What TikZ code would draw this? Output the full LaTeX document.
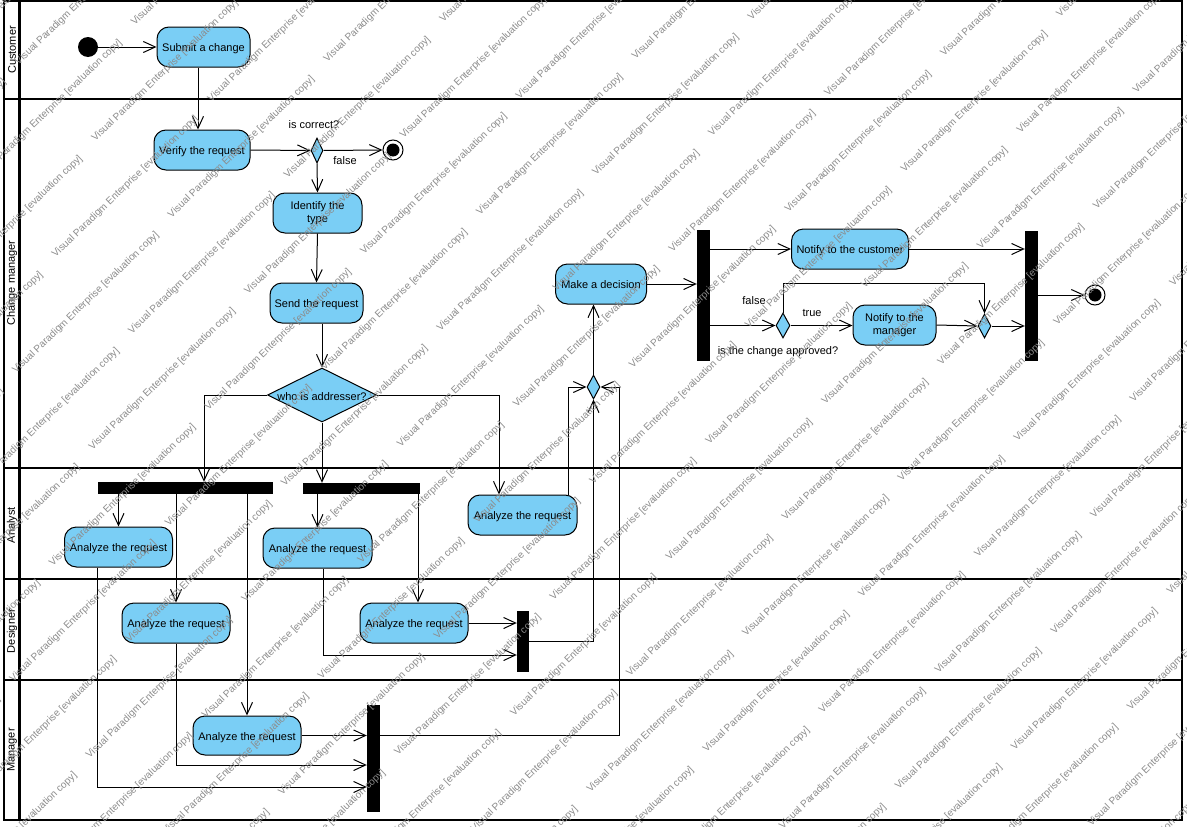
\documentclass[tikz,border=0pt]{standalone}
\usepackage{fontspec}
\setmainfont{Liberation Sans}
\usetikzlibrary{arrows.meta,shapes.geometric,calc}
\definecolor{actfill}{RGB}{122,206,245}
\definecolor{wmgray}{RGB}{140,140,140}
\begin{document}
\begin{tikzpicture}[x=1pt,y=-1pt,
  font=\fontsize{11}{13}\selectfont,
  action/.style={draw, line width=1pt, fill=actfill, rounded corners=12pt,
    inner sep=1pt, align=center},
  oneline/.style={action, text height=10pt, text depth=0.5pt},
  bar/.style={fill=black, inner sep=0pt},
  choice/.style={diamond, draw, line width=1pt, fill=actfill, inner sep=0pt,
    minimum width=13pt, minimum height=25pt},
  startnode/.style={circle, fill=black, inner sep=0pt, minimum size=20pt},
  endnode/.style={circle, draw, line width=1pt, fill=white, inner sep=0pt,
    minimum size=20pt,
    path picture={\fill[black] (path picture bounding box.center) circle (6.5pt);}},
  flow/.style={draw, line width=1pt,
    -{Straight Barb[length=12pt,width=11pt,line width=1pt]}},
  lane/.style={line width=2.5pt},
  wm/.style={font=\fontsize{10}{12}\selectfont, text=wmgray, rotate=44,
    anchor=west, inner sep=0pt}
]
\useasboundingbox (0,0) rectangle (1187,827);
\fill[white] (0,0) rectangle (1187,827);

% swimlane frame
\draw[line width=2pt] (4,1) rectangle (1182,820);
\draw[line width=3pt] (19,1) -- (19,820);
\foreach \y in {99,468,579,680} \draw[lane] (4,\y) -- (1182,\y);

% lane titles
\node[rotate=90] (lcust) at (12,50) {Customer};
\node[rotate=90] (lchg) at (12,283) {Change manager};
\node[rotate=90] (lana) at (12,525) {Analyst};
\node[rotate=90] (ldes) at (12,631) {Designer};
\node[rotate=90] (lman) at (12,750) {Manager};

% Customer
\node[startnode] (init) at (88,47) {};
\node[oneline, minimum width=93pt, minimum height=40pt] (submit) at (203.5,47) {Submit a change};

% Change manager
\node[oneline, minimum width=96pt, minimum height=40pt] (verify) at (202,150) {Verify the request};
\node[choice, minimum width=12pt] (dec1) at (317,150.5) {};
\node[endnode] (fin1) at (393,150) {};
\node (lblcorrect) at (314,125) {is correct?};
\node (lblfalse1) at (345,161) {false};
\node[action, minimum width=89pt, minimum height=40pt] (identify) at (317.5,213) {Identify the\\type};
\node[oneline, minimum width=93pt, minimum height=40pt] (send) at (316.5,303) {Send the request};
\node[diamond, draw, line width=1pt, fill=actfill, inner sep=0pt,
  minimum width=109pt, minimum height=54pt] (who) at (322,395) {};
\node (whotext) at (322,397) {who is addresser?};

\node[choice, minimum height=24pt] (dec2) at (593.5,387) {};
\node[oneline, minimum width=91pt, minimum height=40pt] (decide) at (601,284) {Make a decision};
\node[bar, minimum width=13pt, minimum height=131pt] (fork3) at (703.5,295.5) {};
\node[oneline, minimum width=117pt, minimum height=40pt] (notc) at (850,249) {Notify to the customer};
\node[choice, minimum width=14pt] (dec3) at (783,325.5) {};
\node (lblfalse2) at (754,301) {false};
\node (lbltrue) at (812,313) {true};
\node (lblapproved) at (778,352) {is the change approved?};
\node[action, minimum width=83pt, minimum height=40pt] (notm) at (894.5,325) {Notify to the\\manager};
\node[choice, minimum height=24pt] (dec4) at (984.5,326) {};
\node[bar, minimum width=13pt, minimum height=130pt] (join3) at (1031.5,296) {};
\node[endnode] (fin2) at (1095,295) {};

% Analyst
\node[bar, minimum width=175pt, minimum height=12pt] (fork1) at (185.5,488) {};
\node[bar, minimum width=117pt, minimum height=11pt] (fork2) at (361.5,488.5) {};
\node[oneline, minimum width=108pt, minimum height=40pt] (ana1) at (118.5,547) {Analyze the request};
\node[oneline, minimum width=109pt, minimum height=40pt] (ana2) at (317.5,548) {Analyze the request};
\node[oneline, minimum width=109pt, minimum height=40pt] (ana3) at (522.5,515) {Analyze the request};

% Designer
\node[oneline, minimum width=108pt, minimum height=40pt] (des1) at (176,623) {Analyze the request};
\node[oneline, minimum width=108pt, minimum height=40pt] (des2) at (414,623) {Analyze the request};
\node[bar, minimum width=12pt, minimum height=61pt] (join1) at (523,641.5) {};

% Manager
\node[oneline, minimum width=108pt, minimum height=39pt] (man1) at (247,735.5) {Analyze the request};
\node[bar, minimum width=13pt, minimum height=107pt] (join2) at (373.5,758.5) {};

% control flows
\draw[flow] (init.east) -- (submit.west);
\draw[flow] ([xshift=-5.5pt]submit.south) -- ([xshift=-5.5pt]submit.south |- verify.north);
\draw[flow] (verify.east) -- (dec1.west);
\draw[flow] (dec1.east) -- (fin1.west);
\draw[flow] (dec1.south) -- (identify.north);
\draw[flow] (identify.south) -- (send.north);
\draw[flow] ([xshift=5.5pt]send.south) -- ([xshift=5.5pt]send.south |- who.north);

\draw[flow] (who.west) -| ([xshift=18.5pt]fork1.north);
\draw[flow] (who.south) -- (who.south |- fork2.north);
\draw[flow] (who.east) -| ([xshift=-23.5pt]ana3.north);

\draw[flow] (ana1.north |- fork1.south) -- (ana1.north);
\draw[flow] (des1.north |- fork1.south) -- (des1.north);
\draw[flow] (man1.north |- fork1.south) -- (man1.north);
\draw[flow] (ana2.north |- fork2.south) -- (ana2.north);
\draw[flow] ([xshift=4pt]des2.north |- fork2.south) -- ([xshift=4pt]des2.north);

\draw[flow] (des2.east) -- (des2.east -| join1.west);
\draw[flow] ([xshift=5.5pt]ana2.south) |- ([yshift=-13.5pt]join1.west);
\draw[flow] (join1.east) -| (dec2.south);

\draw[flow] (man1.east) -- (man1.east -| join2.west);
\draw[flow] (des1.south) |- ([yshift=-6.5pt]join2.west);
\draw[flow] ([xshift=-21.5pt]ana1.south) |- ([yshift=-28.5pt]join2.west);
\draw[flow] (join2.east |- man1.east) -| ([xshift=19pt]dec2.east) -- (dec2.east);

\draw[flow] ([xshift=45.5pt]ana3.north) |- (dec2.west);
\draw[flow] (dec2.north) -- (dec2.north |- decide.south);
\draw[flow] (decide.east) -- (decide.east -| fork3.west);

\draw[flow] (notc.west -| fork3.east) -- (notc.west);
\draw[flow] (dec3.west -| fork3.east) -- (dec3.west);
\draw[flow] (dec3.east) -- (dec3.east -| notm.west);
\draw[flow] (dec3.north) -- ++(0,-29) -| (dec4.north);
\draw[flow] (notm.east) -- (dec4.west);
\draw[flow] (notc.east) -- (notc.east -| join3.west);
\draw[flow] (dec4.east) -- (dec4.east -| join3.west);
\draw[flow] (join3.east |- fin2.west) -- (fin2.west);

% evaluation watermark, tiled over the whole sheet
\begin{scope}
\clip (0,0) rectangle (1187,827);
\foreach \m in {-10,...,32}{
  \foreach \n in {-16,...,10}{
    \pgfmathsetmacro\wx{133+116*\m+155.6*\n}
    \pgfmathsetmacro\wy{24-39.6*\m-155.6*\n}
    \pgfmathtruncatemacro\ok{and(and(\wx>-220,\wx<1200),and(\wy>-20,\wy<1010))}
    \ifnum\ok=1
      \node[wm] (wm-\m-\n) at (\wx,\wy) {Visual Paradigm Enterprise [evaluation copy]};
    \fi
  }
}
\end{scope}
\end{tikzpicture}
\end{document}
